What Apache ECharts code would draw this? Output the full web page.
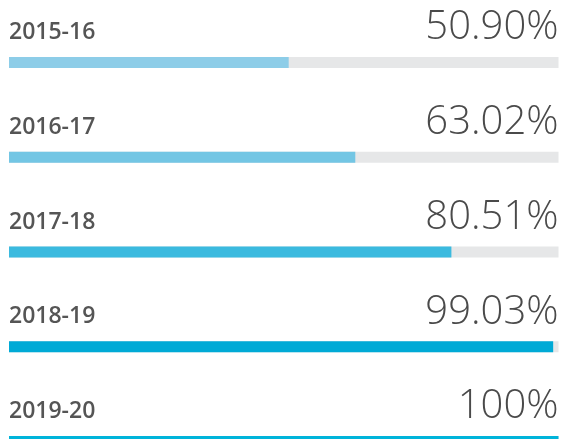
<!DOCTYPE html>
<html>
<head>
<meta charset="utf-8">
<script src="https://cdn.jsdelivr.net/npm/echarts@6/dist/echarts.min.js"></script>
<style>
  html, body { margin: 0; padding: 0; background: #fff; }
  #main { width: 564px; height: 439px; }
</style>
</head>
<body>
<div id="main"></div>
<script>
// financial years and share completed
const categories = ['2015-16', '2016-17', '2017-18', '2018-19', '2019-20']
const values = [50.90, 63.02, 80.51, 99.03, 100]
const valueLabels = ['50.90%', '63.02%', '80.51%', '99.03%', '100%']
const axisMax = 100

const barColors = ['#8dcde8', '#73c6e4', '#3bbadf', '#00aad6', '#00b4da']

const chart = echarts.init(document.getElementById('main'), null, { renderer: 'canvas' })

chart.setOption({
  animation: false,
  // last row runs off the bottom edge, like the original
  grid: { left: 9, right: 5.5, top: 15.1, height: 473.75, containLabel: false, outerBoundsMode: 'none' },
  xAxis: { type: 'value', min: 0, max: axisMax, show: false },
  yAxis: { type: 'category', data: categories, inverse: true, show: false },
  series: [
    {
      // grey track, carries the big % label on the right
      type: 'bar',
      data: categories.map(() => axisMax),
      barWidth: 11,
      silent: true,
      itemStyle: { color: '#e6e7e8' },
      label: {
        show: true,
        position: ['100%', -9],
        align: 'right',
        verticalAlign: 'bottom',
        formatter: p => valueLabels[p.dataIndex],
        fontFamily: 'Open Sans',
        fontWeight: 300,
        fontSize: 40,
        lineHeight: 40,
        color: '#4a4a4a'
      }
    },
    {
      type: 'bar',
      data: values,
      barWidth: 11,
      barGap: '-100%',
      silent: true,
      itemStyle: { color: p => barColors[p.dataIndex] },
      label: {
        show: true,
        position: [0, -13],
        align: 'left',
        verticalAlign: 'bottom',
        formatter: '{b}',
        fontFamily: 'Open Sans',
        fontWeight: 600,
        fontSize: 23,
        lineHeight: 23,
        color: '#555555'
      }
    }
  ]
})
</script>
</body>
</html>
